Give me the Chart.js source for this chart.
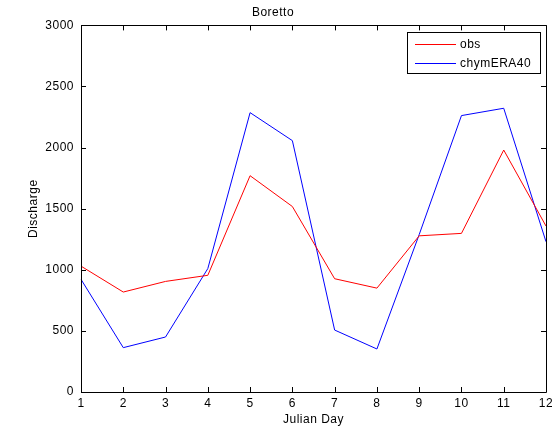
<!DOCTYPE html>
<html>
<head>
<meta charset="utf-8">
<script src="https://cdn.jsdelivr.net/npm/chart.js@4/dist/chart.umd.min.js"></script>
<style>
html,body{margin:0;padding:0;background:#fff;}
#wrap{width:552px;height:435px;}
</style>
</head>
<body>
<div id="wrap"><canvas id="c" width="552" height="435"></canvas></div>
<script>
const days = ['1','2','3','4','5','6','7','8','9','10','11','12'];
const obs = [1030, 818, 905, 955, 1770, 1518, 927, 850, 1278, 1298, 1980, 1358];
const chymERA40 = [922, 363, 450, 1010, 2286, 2057, 507, 352, 1288, 2262, 2322, 1230];
const yTicks = [0, 500, 1000, 1500, 2000, 2500, 3000];
const seriesNames = ['obs', 'chymERA40'];
const titleText = 'Boretto';
const xTitle = 'Julian Day';
const yTitle = 'Discharge';

const FONT = {family: '"Liberation Sans", Arial, Helvetica, sans-serif', size: 12};
const SPACING = '0.5px';

const spacingPlugin = {
  id: 'spacing',
  beforeUpdate(chart) { chart.ctx.letterSpacing = SPACING; },
  beforeDraw(chart) { chart.ctx.letterSpacing = SPACING; }
};

const framePlugin = {
  id: 'frame',
  afterDraw(chart) {
    const ctx = chart.ctx;
    const a = chart.chartArea;
    const xs = chart.scales.x, ys = chart.scales.y;
    ctx.save();
    ctx.strokeStyle = '#000';
    ctx.lineWidth = 1;
    ctx.beginPath();
    ctx.rect(Math.round(a.left) + 0.5, Math.round(a.top) + 0.5, Math.round(a.right - a.left), Math.round(a.bottom - a.top));
    ctx.stroke();
    const L = 5;
    ctx.beginPath();
    xs.ticks.forEach((t, i) => {
      const px = Math.round(xs.getPixelForTick(i)) + 0.5;
      ctx.moveTo(px, a.bottom); ctx.lineTo(px, a.bottom - L);
      ctx.moveTo(px, a.top); ctx.lineTo(px, a.top + L);
    });
    ys.ticks.forEach((t) => {
      const py = Math.round(ys.getPixelForValue(t.value)) + 0.5;
      ctx.moveTo(a.left, py); ctx.lineTo(a.left + L, py);
      ctx.moveTo(a.right, py); ctx.lineTo(a.right - L, py);
    });
    ctx.stroke();

    // legend box inside plot, top right
    const bx = 407.5, by = 32.5, bw = 133, bh = 41;
    ctx.fillStyle = '#fff';
    ctx.fillRect(bx, by, bw, bh);
    ctx.strokeRect(bx, by, bw, bh);
    ctx.font = FONT.size + 'px ' + FONT.family;
    ctx.letterSpacing = SPACING;
    ctx.textBaseline = 'middle';
    ctx.textAlign = 'left';
    chart.data.datasets.forEach((ds, i) => {
      const ly = Math.round(by + 11 + i * 19) + 0.5;
      ctx.strokeStyle = ds.borderColor;
      ctx.beginPath();
      ctx.moveTo(415, ly); ctx.lineTo(456, ly);
      ctx.stroke();
      ctx.fillStyle = '#000';
      ctx.fillText(ds.label, 460, ly);
    });
    ctx.restore();
  }
};

new Chart(document.getElementById('c'), {
  type: 'line',
  data: {
    labels: days,
    datasets: [
      {label: seriesNames[0], data: obs, borderColor: '#ff0000', borderWidth: 1, pointRadius: 0, tension: 0, fill: false},
      {label: seriesNames[1], data: chymERA40, borderColor: '#0000ff', borderWidth: 1, pointRadius: 0, tension: 0, fill: false}
    ]
  },
  options: {
    responsive: false,
    animation: false,
    devicePixelRatio: 1,
    layout: {padding: {left: 0, right: 6, top: 0, bottom: 0}},
    plugins: {
      legend: {display: false},
      tooltip: {enabled: false},
      title: {display: true, text: titleText, color: '#000', font: {family: FONT.family, size: 12, weight: 'normal'}, padding: {top: 5, bottom: 6}}
    },
    scales: {
      x: {
        type: 'category',
        offset: false,
        grid: {display: false, drawTicks: false},
        border: {display: false},
        ticks: {color: '#000', font: FONT, padding: 4, autoSkip: false, maxRotation: 0},
        title: {display: true, text: xTitle, color: '#000', font: FONT, padding: {top: 0, bottom: 8}},
        afterFit(s) { s.height = 43; s.paddingLeft = 0; s.paddingRight = 0; }
      },
      y: {
        min: 0, max: 3000,
        grid: {display: false, drawTicks: false},
        border: {display: false},
        afterBuildTicks(s) { s.ticks = yTicks.map(v => ({value: v})); },
        ticks: {color: '#000', font: FONT, padding: 7, callback: v => String(v)},
        title: {display: true, text: yTitle, color: '#000', font: FONT, padding: {top: 26, bottom: 0}},
        afterFit(s) { s.width = 81; s.paddingTop = 0; s.paddingBottom = 0; }
      }
    }
  },
  plugins: [spacingPlugin, framePlugin]
});
</script>
</body>
</html>
